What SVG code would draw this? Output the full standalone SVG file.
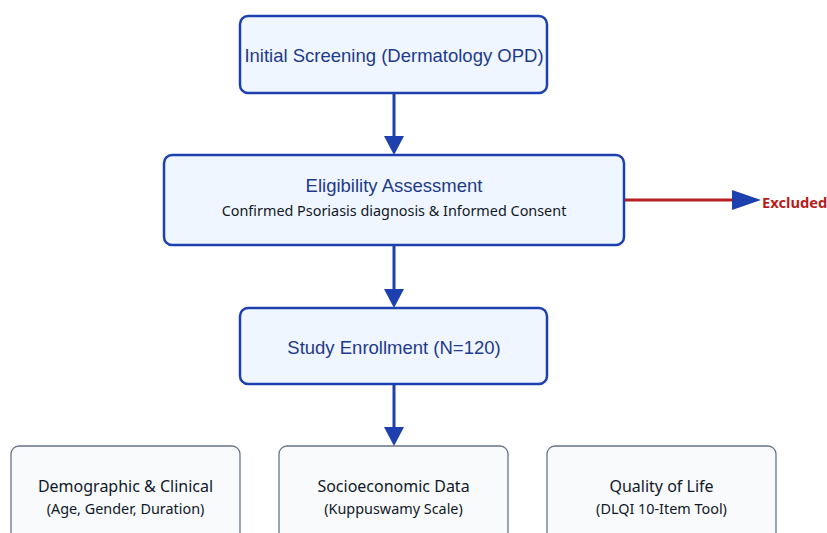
<svg xmlns="http://www.w3.org/2000/svg" width="827" height="533" viewBox="0 0 827 533">
<defs>
<style>
.main{fill:#eff6ff;stroke:#1e40af;stroke-width:2.5}
.sub{fill:#f8fafc;stroke:#64748b;stroke-width:1.3}
.t{font-family:"Liberation Sans",Arial,sans-serif;fill:#1e3a8a;text-anchor:middle;font-size:18.5px}
.s{font-family:"Noto Sans","Open Sans",sans-serif;fill:#111827;text-anchor:middle}
.conn{stroke:#1e40af;stroke-width:3;fill:none}
.head{fill:#1e40af}
</style>
</defs>
<rect width="827" height="533" fill="#ffffff"/>
<g id="connectors">
<line class="conn" x1="394" y1="93" x2="394" y2="137"/>
<path class="head" d="M384,136 L404,136 L394,155 z"/>
<line class="conn" x1="394" y1="245" x2="394" y2="290"/>
<path class="head" d="M384,289 L404,289 L394,308 z"/>
<line class="conn" x1="394" y1="384" x2="394" y2="428"/>
<path class="head" d="M384,427 L404,427 L394,446 z"/>
<line x1="624" y1="200" x2="734" y2="200" stroke="#b91c1c" stroke-width="3"/>
<path class="head" d="M732,190 L761,200 L732,210 z"/>
<text x="762" y="208" font-family="'Noto Sans','Open Sans',sans-serif" font-weight="bold" font-size="14.7" fill="#b91c1c">Excluded</text>
</g>
<g id="screening">
<rect class="main" x="240" y="16" width="307" height="77" rx="8"/>
<text class="t" x="394" y="62">Initial Screening (Dermatology OPD)</text>
</g>
<g id="eligibility">
<rect class="main" x="164" y="155" width="460" height="90" rx="8"/>
<text class="t" x="394" y="192">Eligibility Assessment</text>
<text class="s" x="394" y="216" font-size="14.4">Confirmed Psoriasis diagnosis &amp; Informed Consent</text>
</g>
<g id="enrollment">
<rect class="main" x="240" y="308" width="307" height="76" rx="8"/>
<text class="t" x="394" y="354">Study Enrollment (N=120)</text>
</g>
<g id="demographic">
<rect class="sub" x="11" y="446" width="229" height="100" rx="8"/>
<text class="s" x="125.5" y="492" font-size="16">Demographic &amp; Clinical</text>
<text class="s" x="125.5" y="514" font-size="14.4">(Age, Gender, Duration)</text>
</g>
<g id="socioeconomic">
<rect class="sub" x="279" y="446" width="229" height="100" rx="8"/>
<text class="s" x="393.5" y="492" font-size="16">Socioeconomic Data</text>
<text class="s" x="393.5" y="514" font-size="14.4">(Kuppuswamy Scale)</text>
</g>
<g id="qol">
<rect class="sub" x="547" y="446" width="229" height="100" rx="8"/>
<text class="s" x="661.5" y="492" font-size="16">Quality of Life</text>
<text class="s" x="661.5" y="514" font-size="14.4">(DLQI 10-Item Tool)</text>
</g>
</svg>
